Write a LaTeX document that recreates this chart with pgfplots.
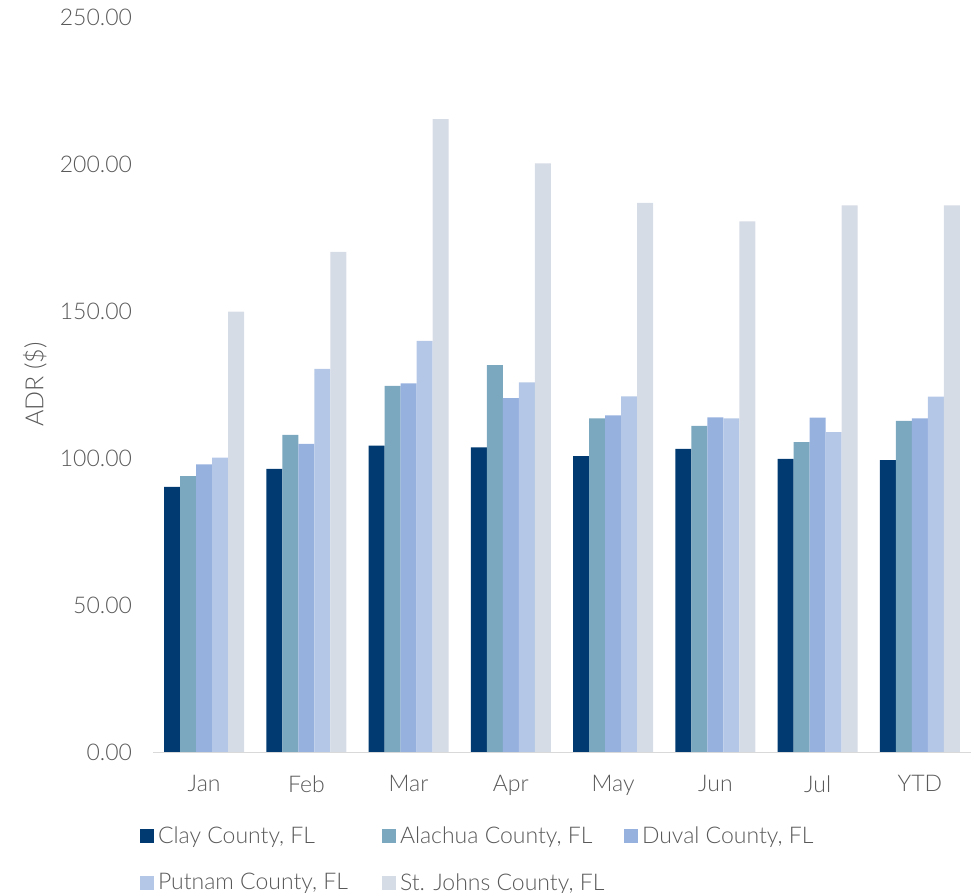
\documentclass[border=0pt]{standalone}
\usepackage{fontspec}
\setmainfont{Lato Light}
\usepackage{pgfplots}
\pgfplotsset{compat=1.18}
\definecolor{cClay}{HTML}{003A70}
\definecolor{cAlachua}{HTML}{7BA7BF}
\definecolor{cDuval}{HTML}{97B1DF}
\definecolor{cPutnam}{HTML}{B4C7E7}
\definecolor{cStJohns}{HTML}{D6DCE5}
\definecolor{ctext}{HTML}{595959}
\definecolor{caxis}{HTML}{D9D9D9}
\newcommand{\lgent}[1]{\makebox[110pt][l]{#1}}
\begin{document}
\begin{tikzpicture}
\useasboundingbox (-76.5pt,-70.5pt) rectangle (409pt,376pt);
\begin{axis}[
  at={(0,0)}, anchor=south west,
  scale only axis,
  width=409pt, height=367.5pt,
  ybar=0pt, bar width=8pt,
  ymin=0, ymax=250, ytick={0,50,...,250},
  xmin=-0.5, xmax=7.5,
  xtick={0,...,7},
  xticklabels={Jan,Feb,Mar,Apr,May,Jun,Jul,YTD},
  axis lines*=left,
  x axis line style={draw=caxis,-},
  y axis line style={draw=none},
  tick style={draw=none},
  font=\fontsize{11.5}{13}\selectfont,
  every tick label/.append style={text=ctext, font=\fontsize{11.5}{13}\selectfont},
  /pgf/number format/assume math mode=true,
  /pgf/number format/fixed, /pgf/number format/fixed zerofill, /pgf/number format/precision=2,
  yticklabel style={xshift=-7pt},
  xticklabel style={yshift=-4pt},
  ylabel={ADR (\$)},
  ylabel style={at={(axis description cs:-0.1443,0.5)}, anchor=center, text=ctext, font=\fontsize{12.5}{14}\selectfont},
  legend columns=3,
  legend style={draw=none, fill=none, at={(axis description cs:-0.0237,-0.09)}, anchor=north west,
    text=ctext, font=\fontsize{11.5}{13}\selectfont, row sep=9.5pt,
    /tikz/every even column/.append style={column sep=0pt}},
  legend cell align=left,
  legend image code/.code={\fill[#1] (0pt,-3.5pt) rectangle (7pt,3.5pt);},
]
\addplot[fill=cClay, draw=none] coordinates {(0,90.2) (1,96.3) (2,104.2) (3,103.6) (4,100.6) (5,103.1) (6,99.7) (7,99.3)};
\addlegendentry{\lgent{Clay County, FL}}
\addplot[fill=cAlachua, draw=none] coordinates {(0,93.8) (1,107.9) (2,124.5) (3,131.6) (4,113.5) (5,110.9) (6,105.4) (7,112.6)};
\addlegendentry{\lgent{Alachua County, FL}}
\addplot[fill=cDuval, draw=none] coordinates {(0,97.8) (1,104.8) (2,125.4) (3,120.4) (4,114.5) (5,113.8) (6,113.7) (7,113.5)};
\addlegendentry{\lgent{Duval County, FL}}
\addplot[fill=cPutnam, draw=none] coordinates {(0,100.1) (1,130.3) (2,139.8) (3,125.7) (4,121.0) (5,113.5) (6,108.8) (7,120.9)};
\addlegendentry{\lgent{Putnam County, FL}}
\addplot[fill=cStJohns, draw=none] coordinates {(0,149.8) (1,170.1) (2,215.3) (3,200.2) (4,186.8) (5,180.5) (6,185.9) (7,185.9)};
\addlegendentry{\lgent{St. Johns County, FL}}
\end{axis}
\end{tikzpicture}
\end{document}
